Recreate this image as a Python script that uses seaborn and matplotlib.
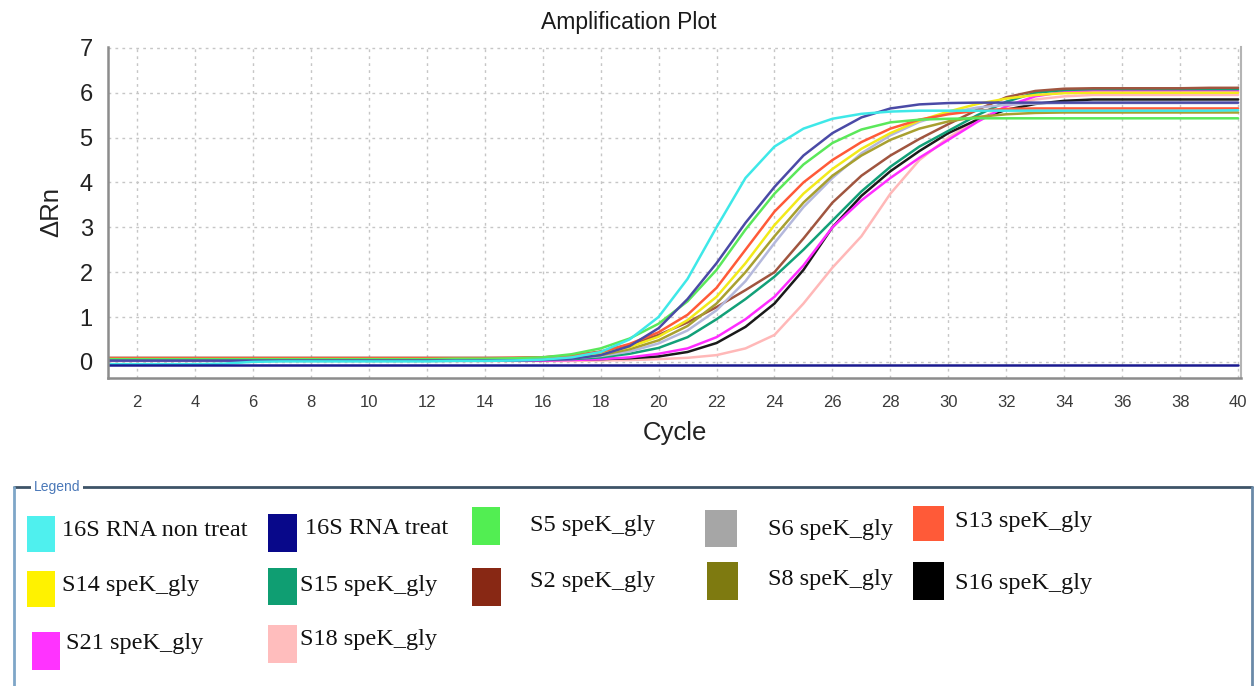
import matplotlib
matplotlib.use("Agg")
import matplotlib.pyplot as plt
import seaborn as sns
from matplotlib.patches import Rectangle
from matplotlib.lines import Line2D

# ---- data ----
cycles = list(range(1, 41))

rna_non_treat = [-0.05, -0.05, -0.05, -0.05, -0.04, 0.0, 0.01, 0.01, 0.01, 0.01,
                 0.01, 0.01, 0.02, 0.02, 0.03, 0.05, 0.1, 0.22, 0.5, 1.0,
                 1.85, 3.0, 4.1, 4.8, 5.2, 5.42, 5.53, 5.58, 5.6, 5.6,
                 5.6, 5.6, 5.6, 5.6, 5.6, 5.6, 5.6, 5.6, 5.6, 5.61]
rna_treat_a = [0.03, 0.03, 0.03, 0.03, 0.03, 0.03, 0.03, 0.03, 0.03, 0.03,
               0.03, 0.03, 0.03, 0.03, 0.03, 0.04, 0.07, 0.15, 0.35, 0.75,
               1.4, 2.2, 3.1, 3.9, 4.6, 5.1, 5.45, 5.65, 5.74, 5.77,
               5.78, 5.78, 5.78, 5.78, 5.78, 5.78, 5.78, 5.78, 5.78, 5.78]
rna_treat_b = [-0.06, -0.06, -0.06, -0.06, -0.06, -0.06, -0.06, -0.06, -0.06, -0.06,
               -0.06, -0.06, -0.06, -0.06, -0.06, -0.06, -0.06, -0.06, -0.06, -0.06,
               -0.06, -0.06, -0.06, -0.06, -0.06, -0.06, -0.06, -0.06, -0.06, -0.06,
               -0.06, -0.06, -0.06, -0.06, -0.06, -0.06, -0.06, -0.06, -0.06, -0.06]
s5 = [0.06, 0.06, 0.06, 0.06, 0.06, 0.06, 0.06, 0.06, 0.06, 0.06,
      0.06, 0.06, 0.07, 0.07, 0.08, 0.1, 0.17, 0.3, 0.52, 0.85,
      1.35, 2.05, 2.95, 3.75, 4.4, 4.88, 5.18, 5.34, 5.4, 5.42,
      5.43, 5.43, 5.43, 5.43, 5.43, 5.43, 5.43, 5.43, 5.43, 5.43]
s6 = [0.05, 0.05, 0.05, 0.05, 0.05, 0.05, 0.05, 0.05, 0.05, 0.05,
      0.05, 0.05, 0.05, 0.05, 0.05, 0.05, 0.08, 0.13, 0.23, 0.41,
      0.7, 1.15, 1.8, 2.65, 3.45, 4.1, 4.65, 5.05, 5.35, 5.55,
      5.67, 5.73, 5.76, 5.77, 5.77, 5.77, 5.77, 5.77, 5.77, 5.77]
s13 = [0.08, 0.08, 0.08, 0.08, 0.08, 0.08, 0.08, 0.08, 0.08, 0.08,
       0.08, 0.08, 0.08, 0.08, 0.09, 0.1, 0.14, 0.22, 0.4, 0.66,
       1.05, 1.65, 2.5, 3.35, 4.0, 4.5, 4.9, 5.2, 5.4, 5.52,
       5.6, 5.64, 5.65, 5.65, 5.65, 5.65, 5.65, 5.65, 5.65, 5.65]
s14 = [0.07, 0.07, 0.07, 0.07, 0.07, 0.07, 0.07, 0.07, 0.07, 0.07,
       0.07, 0.07, 0.07, 0.07, 0.07, 0.08, 0.11, 0.18, 0.33, 0.56,
       0.93, 1.45, 2.2, 3.05, 3.75, 4.3, 4.75, 5.1, 5.38, 5.58,
       5.75, 5.87, 5.95, 5.99, 6.0, 6.0, 6.0, 6.0, 6.0, 6.0]
s15 = [0.04, 0.04, 0.04, 0.04, 0.04, 0.04, 0.04, 0.04, 0.04, 0.04,
       0.04, 0.04, 0.04, 0.04, 0.04, 0.05, 0.06, 0.1, 0.18, 0.31,
       0.55, 0.95, 1.4, 1.9, 2.5, 3.15, 3.8, 4.35, 4.8, 5.15,
       5.5, 5.8, 6.0, 6.06, 6.08, 6.08, 6.08, 6.08, 6.08, 6.08]
s2 = [0.09, 0.09, 0.09, 0.09, 0.09, 0.09, 0.09, 0.09, 0.09, 0.09,
      0.09, 0.09, 0.09, 0.09, 0.09, 0.1, 0.14, 0.23, 0.38, 0.6,
      0.88, 1.22, 1.6, 2.0, 2.75, 3.55, 4.15, 4.6, 4.97, 5.3,
      5.62, 5.9, 6.04, 6.09, 6.1, 6.1, 6.1, 6.1, 6.11, 6.11]
s8 = [0.06, 0.06, 0.06, 0.06, 0.06, 0.06, 0.06, 0.06, 0.06, 0.06,
      0.06, 0.06, 0.06, 0.06, 0.06, 0.07, 0.09, 0.15, 0.28, 0.48,
      0.8, 1.3, 2.0, 2.8, 3.55, 4.15, 4.6, 4.95, 5.2, 5.36,
      5.46, 5.52, 5.55, 5.56, 5.56, 5.56, 5.56, 5.56, 5.56, 5.56]
s16 = [0.04, 0.04, 0.04, 0.04, 0.04, 0.04, 0.04, 0.04, 0.04, 0.04,
       0.04, 0.04, 0.04, 0.04, 0.04, 0.04, 0.05, 0.06, 0.08, 0.12,
       0.22, 0.42, 0.78, 1.3, 2.05, 3.0, 3.7, 4.25, 4.7, 5.1,
       5.4, 5.62, 5.75, 5.82, 5.85, 5.85, 5.85, 5.85, 5.85, 5.85]
s21 = [0.03, 0.03, 0.03, 0.03, 0.03, 0.03, 0.03, 0.03, 0.03, 0.03,
       0.03, 0.03, 0.03, 0.03, 0.03, 0.03, 0.04, 0.06, 0.1, 0.18,
       0.3, 0.55, 0.95, 1.45, 2.15, 3.0, 3.6, 4.1, 4.55, 4.95,
       5.35, 5.7, 5.92, 6.02, 6.05, 6.05, 6.05, 6.05, 6.05, 6.05]
s18 = [0.02, 0.02, 0.02, 0.02, 0.02, 0.02, 0.02, 0.02, 0.02, 0.02,
       0.02, 0.02, 0.02, 0.02, 0.02, 0.02, 0.02, 0.03, 0.04, 0.06,
       0.09, 0.15, 0.3, 0.6, 1.3, 2.1, 2.8, 3.75, 4.5, 5.0,
       5.4, 5.7, 5.85, 5.92, 5.95, 5.95, 5.95, 5.95, 5.95, 5.95]

legend_labels = ["16S RNA non treat", "16S RNA treat", "S5 speK_gly", "S6 speK_gly", "S13 speK_gly",
                 "S14 speK_gly", "S15 speK_gly", "S2 speK_gly", "S8 speK_gly", "S16 speK_gly",
                 "S21 speK_gly", "S18 speK_gly"]
legend_colors = ["#4ff0ee", "#08088a", "#52ee52", "#a6a6a6", "#ff5a38",
                 "#fff200", "#0f9e72", "#882814", "#7e7a10", "#000000",
                 "#ff33ff", "#ffbdbd"]

# curves drawn back to front: (values, colour)
curves = [(s18, "#ffb8b8"), (s16, "#1a1a1a"), (s21, "#ff2cff"), (s15, "#12a078"),
          (s2, "#a0553f"), (s6, "#b4b8dc"), (s8, "#a8a030"), (s14, "#f2ea1a"),
          (s13, "#ff5a38"), (s5, "#5ae85a"), (rna_treat_a, "#4a4aa6"),
          (rna_non_treat, "#3ee8e8"), (rna_treat_b, "#1a1a90")]

# ---- figure ----
sns.set_style("white")
plt.rcParams['font.family'] = ['Liberation Sans', 'DejaVu Sans']

W, H = 1257, 686
fig = plt.figure(figsize=(W / 100, H / 100), dpi=100)
ax = fig.add_axes([108 / W, 1 - 378 / H, (1241 - 108) / W, (378 - 47) / H])

for vals, col in curves:
    sns.lineplot(x=cycles, y=vals, color=col, lw=1.8, ax=ax)

ax.set_xlim(1.0, 40.1)
ax.set_ylim(-0.36, 7.02)
ax.set_xticks(range(2, 41, 2))
ax.set_yticks(range(0, 8))
ax.grid(True, ls=(0, (2, 3)), color="#c6c6c6", lw=1)
ax.set_axisbelow(True)

ax.spines['top'].set_visible(False)
ax.spines['right'].set_color("#b4b4b4")
ax.spines['right'].set_linewidth(1.5)
for s in ['left', 'bottom']:
    ax.spines[s].set_color("#8c8c8c")
    ax.spines[s].set_linewidth(1.8)

ax.tick_params(axis='x', length=4, width=1.2, color="#8c8c8c", labelsize=12, pad=8, labelcolor="#3a3a3a")
ax.tick_params(axis='y', length=4, width=1.2, color="#8c8c8c", labelsize=17, pad=7, labelcolor="#222222")
ax.set_xlabel("Cycle", fontsize=18.5, labelpad=8, color="#222222")
ax.set_ylabel("ΔRn", fontsize=18.5, labelpad=12, color="#222222")

fig.text(0.5, 1 - 22 / H, "Amplification Plot", ha='center', va='center', fontsize=16.5, color="#1a1a1a")


def fx(x):
    return x / W


def fy(y):
    return 1 - y / H


# legend frame
fig.add_artist(Line2D([fx(14), fx(1252)], [fy(487), fy(487)], color="#3e5468", lw=2))
fig.add_artist(Line2D([fx(14), fx(14)], [fy(487), fy(700)], color="#7ea6c8", lw=2))
fig.add_artist(Line2D([fx(1252), fx(1252)], [fy(487), fy(700)], color="#6a8aa8", lw=2))
fig.text(fx(34), fy(487), "Legend", ha='left', va='center', fontsize=10, color="#4a78b8",
         bbox=dict(facecolor='white', edgecolor='none', pad=2))

# legend entries: patch box (x0, y0, x1, y1) and text anchor, in pixels
patch_boxes = [(27, 516, 55, 552), (268, 514, 297, 552), (472, 507, 500, 545), (705, 510, 737, 547), (913, 506, 944, 541),
               (27, 571, 55, 607), (268, 568, 297, 605), (472, 568, 501, 606), (707, 562, 738, 600), (913, 562, 944, 600),
               (32, 632, 60, 670), (268, 625, 297, 663)]
text_pos = [(62, 531), (305, 528), (530, 526), (768, 529), (955, 521),
            (62, 586), (300, 585), (530, 582), (768, 580), (955, 583),
            (66, 644), (300, 640)]

for (x0, y0, x1, y1), (tx, ty), lab, col in zip(patch_boxes, text_pos, legend_labels, legend_colors):
    fig.add_artist(Rectangle((fx(x0), fy(y1)), fx(x1 - x0), (y1 - y0) / H,
                             facecolor=col, edgecolor='none', transform=fig.transFigure))
    fig.text(fx(tx), fy(ty), lab, ha='left', va='center', fontsize=17.5,
             family=['Liberation Serif', 'DejaVu Serif'], color="#111111")

fig.savefig("out.png", dpi=100)
